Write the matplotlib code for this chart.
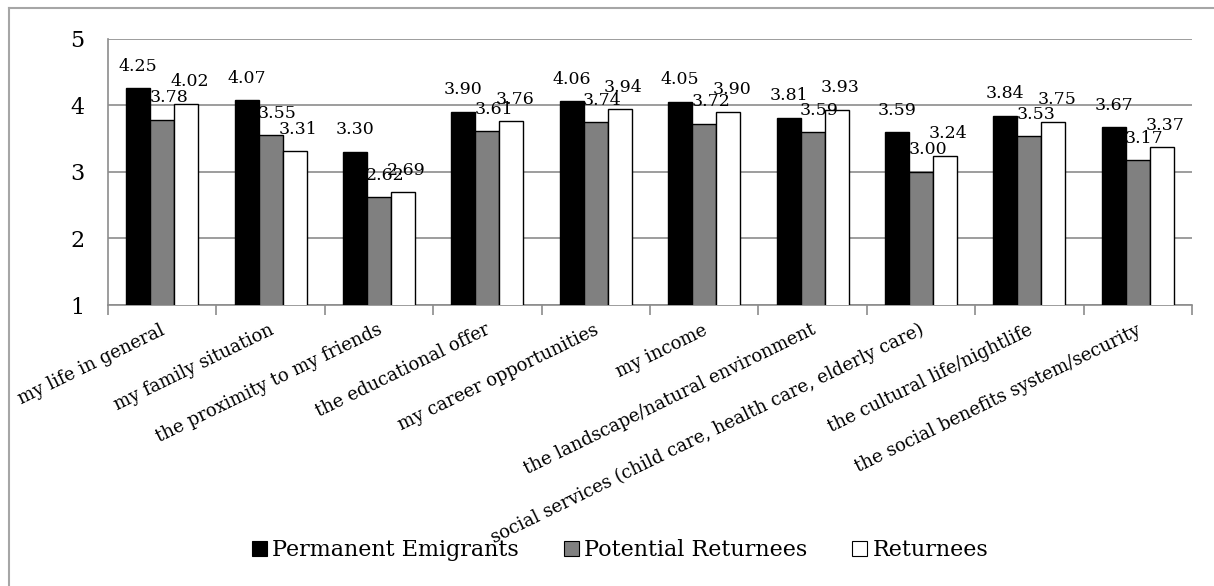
import numpy as np
import matplotlib
matplotlib.use("Agg")
import matplotlib.pyplot as plt
from matplotlib.patches import Patch
from matplotlib.lines import Line2D

categories = [
    "my life in general",
    "my family situation",
    "the proximity to my friends",
    "the educational offer",
    "my career opportunities",
    "my income",
    "the landscape/natural environment",
    "social services (child care, health care, elderly care)",
    "the cultural life/nightlife",
    "the social benefits system/security",
]
permanent_emigrants = [4.25, 4.07, 3.30, 3.90, 4.06, 4.05, 3.81, 3.59, 3.84, 3.67]
potential_returnees = [3.78, 3.55, 2.62, 3.61, 3.74, 3.72, 3.59, 3.00, 3.53, 3.17]
returnees = [4.02, 3.31, 2.69, 3.76, 3.94, 3.90, 3.93, 3.24, 3.75, 3.37]
series_names = ["Permanent Emigrants", "Potential Returnees", "Returnees"]
y_ticks = [1, 2, 3, 4, 5]

FONT = "DejaVu Serif"
plt.rcParams["font.family"] = [FONT, "DejaVu Sans"]

W, H = 1214, 586
fig = plt.figure(figsize=(W / 100, H / 100), dpi=100)
fig.patch.set_facecolor("white")

# outer chart frame (left and top edges)
frame_col = "#a6a6a6"
fig.add_artist(Line2D([9 / W, 9 / W], [0, 1 - 8 / H], transform=fig.transFigure,
                      color=frame_col, lw=1.5))
fig.add_artist(Line2D([9 / W, 1], [1 - 8 / H, 1 - 8 / H], transform=fig.transFigure,
                      color=frame_col, lw=1.5))

left, right = 108 / W, 1192 / W
bottom, top = 1 - 305 / H, 1 - 38.5 / H
ax = fig.add_axes([left, bottom, right - left, top - bottom])

n = len(categories)
x = np.arange(n)
bw = 0.222
series = [permanent_emigrants, potential_returnees, returnees]
fills = ["#000000", "#808080", "#ffffff"]
label_dx = [0.0, 0.06, 0.03]

for i, (vals, fc) in enumerate(zip(series, fills)):
    pos = x + (i - 1) * bw
    ax.bar(pos, vals, width=bw, color=fc, edgecolor="black", linewidth=1.0,
           zorder=3)
    for px, v in zip(pos, vals):
        ax.text(px + label_dx[i], v + 0.2, f"{v:.2f}", ha="center", va="bottom",
                fontsize=12.5, color="black", zorder=4)

ax.set_xlim(-0.5, n - 0.5)
ax.set_ylim(1, 5)
ax.set_yticks(y_ticks)
ax.set_yticklabels([str(t) for t in y_ticks], fontsize=16)
ax.tick_params(axis="y", length=0, pad=17)
ax.yaxis.grid(True, color="#8c8c8c", linewidth=1.2, zorder=0)
ax.set_axisbelow(True)

# category boundaries carry the tick marks; labels sit on group centres
ax.set_xticks(np.arange(n + 1) - 0.5)
ax.set_xticklabels([])
ax.tick_params(axis="x", length=7, width=1.2, color="#8c8c8c", direction="out")
for xi, lab in zip(x, categories):
    ax.text(xi - 0.02, -0.06, lab, rotation=26, rotation_mode="anchor",
            ha="right", va="top", fontsize=13,
            transform=ax.get_xaxis_transform())

for s in ["top", "right"]:
    ax.spines[s].set_visible(False)
for s in ["left", "bottom"]:
    ax.spines[s].set_color("#8c8c8c")
    ax.spines[s].set_linewidth(1.2)

handles = [Patch(facecolor=fc, edgecolor="black", linewidth=0.8) for fc in fills]
fig.legend(handles, series_names, loc="center", ncol=3,
           bbox_to_anchor=(620 / W, 1 - 550 / H), frameon=False,
           fontsize=16, handlelength=0.68, handleheight=0.68,
           handletextpad=0.25, columnspacing=2.0, borderaxespad=0)

fig.savefig("out.png", dpi=100, facecolor="white")
